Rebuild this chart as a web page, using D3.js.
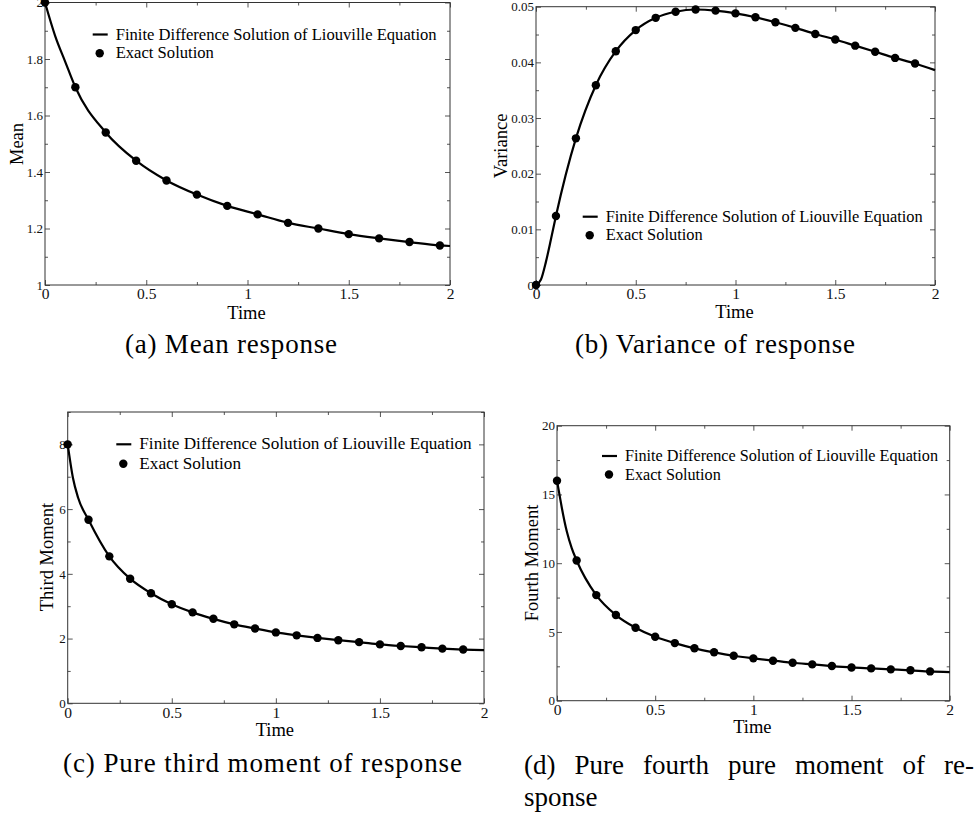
<!DOCTYPE html>
<html>
<head>
<meta charset="utf-8">
<script src="https://d3js.org/d3.v7.min.js"></script>
<style>
body { margin: 0; background: #fff; }
svg { display: block; }
text { font-family: "Liberation Serif", "Times New Roman", Times, serif; }
.frame { fill: none; stroke: #333; stroke-width: 1; }
.tick line { stroke: #555; }
.tick text { fill: #111; }
</style>
</head>
<body>
<div id="plot"></div>
<script>

// ---- data ----
// (a) mean response
var tDotsA = [0, 0.15, 0.3, 0.45, 0.6, 0.75, 0.9, 1.05, 1.2, 1.35, 1.5, 1.65, 1.8, 1.95];
var meanDots = [2.0, 1.70, 1.54, 1.44, 1.37, 1.32, 1.28, 1.25, 1.22, 1.20, 1.18, 1.165, 1.152, 1.14];
var tLineA = [0, 0.05, 0.1, 0.15, 0.3, 0.45, 0.6, 0.75, 0.9, 1.05, 1.2, 1.35, 1.5, 1.65, 1.8, 1.95, 2.0];
var meanLine = [2.0, 1.882, 1.79, 1.70, 1.54, 1.44, 1.37, 1.32, 1.28, 1.25, 1.22, 1.20, 1.18, 1.165, 1.152, 1.14, 1.138];

// dots of (b), (c), (d) share one time grid
var tDots = [0, 0.1, 0.2, 0.3, 0.4, 0.5, 0.6, 0.7, 0.8, 0.9, 1.0, 1.1, 1.2, 1.3, 1.4, 1.5, 1.6, 1.7, 1.8, 1.9];

// (b) variance
var varDots = [0, 0.0124, 0.02635, 0.0359, 0.0420, 0.0458, 0.0480, 0.0491, 0.0495, 0.0493,
  0.0488, 0.0481, 0.0472, 0.0462, 0.0451, 0.0441, 0.0430, 0.0419, 0.0408, 0.0398];
var tLineB = [0, 0.025, 0.05, 0.075, 0.1, 0.2, 0.3, 0.4, 0.5, 0.6, 0.7, 0.8, 0.9, 1.0,
  1.1, 1.2, 1.3, 1.4, 1.5, 1.6, 1.7, 1.8, 1.9, 2.0];
var varLine = [0, 0.001, 0.0042, 0.0082, 0.0124, 0.02635, 0.0359, 0.0420, 0.0458, 0.0480, 0.0491, 0.0495, 0.0493,
  0.0488, 0.0481, 0.0472, 0.0462, 0.0451, 0.0441, 0.0430, 0.0419, 0.0408, 0.0398, 0.0386];

// (c) third moment
var thirdDots = [8.0, 5.67, 4.54, 3.85, 3.40, 3.06, 2.81, 2.61, 2.44, 2.31,
  2.19, 2.10, 2.02, 1.95, 1.89, 1.82, 1.77, 1.73, 1.69, 1.66];
var tLineC = [0, 0.025, 0.05, 0.1, 0.2, 0.3, 0.4, 0.5, 0.6, 0.7, 0.8, 0.9, 1.0,
  1.1, 1.2, 1.3, 1.4, 1.5, 1.6, 1.7, 1.8, 1.9, 2.0];
var thirdLine = [8.0, 6.97, 6.35, 5.67, 4.54, 3.85, 3.40, 3.06, 2.81, 2.61, 2.44, 2.31,
  2.19, 2.10, 2.02, 1.95, 1.89, 1.82, 1.77, 1.73, 1.69, 1.66, 1.64];

// (d) fourth moment
var fourthDots = [16.0, 10.2, 7.68, 6.23, 5.31, 4.65, 4.19, 3.81, 3.52, 3.27,
  3.08, 2.91, 2.76, 2.64, 2.52, 2.42, 2.35, 2.28, 2.21, 2.13];
var tLineD = [0, 0.0125, 0.025, 0.05, 0.075, 0.1, 0.2, 0.3, 0.4, 0.5, 0.6, 0.7, 0.8, 0.9, 1.0,
  1.1, 1.2, 1.3, 1.4, 1.5, 1.6, 1.7, 1.8, 1.9, 2.0];
var fourthLine = [16.0, 15.0, 14.0, 12.3, 11.1, 10.2, 7.68, 6.23, 5.31, 4.65, 4.19, 3.81, 3.52, 3.27,
  3.08, 2.91, 2.76, 2.64, 2.52, 2.42, 2.35, 2.28, 2.21, 2.13, 2.08];

// ticks
var xMajor = [0, 0.5, 1, 1.5, 2];
var xMinor = [0.25, 0.75, 1.25, 1.75];
var yMajorA = [1, 1.2, 1.4, 1.6, 1.8, 2], yMinorA = [1.1, 1.3, 1.5, 1.7, 1.9];
var yMajorB = [0, 0.01, 0.02, 0.03, 0.04, 0.05], yMinorB = [0.005, 0.015, 0.025, 0.035, 0.045];
var yMajorC = [0, 2, 4, 6, 8], yMinorC = [1, 3, 5, 7, 9];
var yMajorD = [0, 5, 10, 15, 20], yMinorD = [2.5, 7.5, 12.5, 17.5];

var lineLabel = "Finite Difference Solution of Liouville Equation";
var dotLabel = "Exact Solution";

var width = 980, height = 818;
var serif = "'Liberation Serif', 'Times New Roman', Times, serif";

var svg = d3.select("#plot").append("svg")
  .attr("width", width).attr("height", height)
  .attr("font-family", serif);
svg.append("rect").attr("width", width).attr("height", height).attr("fill", "#fff");

var fmt = d3.format("~g");

function drawPanel(p) {
  var x = d3.scaleLinear().domain([0, 2]).range([p.left, p.right]);
  var y = d3.scaleLinear().domain(p.yDomain).range([p.bottom, p.top]);
  var g = svg.append("g");

  // ticks point inward on all four sides
  function addAxis(axis, transform) {
    var a = g.append("g").attr("transform", transform).call(axis)
      .attr("font-family", serif);
    a.select(".domain").remove();
    return a;
  }
  addAxis(d3.axisBottom(x).tickValues(xMajor).tickSize(-5).tickPadding(3).tickFormat(fmt),
    "translate(0," + p.bottom + ")")
    .selectAll("text").attr("font-size", 15.5).attr("dy", "0.74em");
  addAxis(d3.axisBottom(x).tickValues(xMinor).tickSize(-3).tickFormat(""), "translate(0," + p.bottom + ")");
  addAxis(d3.axisTop(x).tickValues(xMajor).tickSize(-5).tickFormat(""), "translate(0," + p.top + ")");
  addAxis(d3.axisTop(x).tickValues(xMinor).tickSize(-3).tickFormat(""), "translate(0," + p.top + ")");
  addAxis(d3.axisLeft(y).tickValues(p.yMajor).tickSize(-5).tickPadding(2).tickFormat(fmt),
    "translate(" + p.left + ",0)")
    .selectAll("text").attr("font-size", 13);
  addAxis(d3.axisLeft(y).tickValues(p.yMinor).tickSize(-3).tickFormat(""), "translate(" + p.left + ",0)");
  addAxis(d3.axisRight(y).tickValues(p.yMajor).tickSize(-5).tickFormat(""), "translate(" + p.right + ",0)");
  addAxis(d3.axisRight(y).tickValues(p.yMinor).tickSize(-3).tickFormat(""), "translate(" + p.right + ",0)");

  g.append("rect").attr("class", "frame")
    .attr("x", p.left).attr("y", p.top)
    .attr("width", p.right - p.left).attr("height", p.bottom - p.top);

  // curve + dots
  var line = d3.line()
    .x(function(d) { return x(d[0]); })
    .y(function(d) { return y(d[1]); })
    .curve(d3.curveMonotoneX);
  g.append("path")
    .datum(d3.zip(p.tLine, p.line))
    .attr("d", line)
    .attr("fill", "none").attr("stroke", "#000").attr("stroke-width", 2.2);
  g.selectAll("circle.dot")
    .data(d3.zip(p.tDots, p.dots)).enter().append("circle")
    .attr("class", "dot")
    .attr("cx", function(d) { return x(d[0]); })
    .attr("cy", function(d) { return y(d[1]); })
    .attr("r", 4.2).attr("fill", "#000");

  // axis titles
  g.append("text").attr("x", (p.left + p.right) / 2 - 1).attr("y", p.xTitleY)
    .attr("text-anchor", "middle").attr("font-size", 18.5).text("Time");
  g.append("text")
    .attr("transform", "translate(" + p.yTitleX + "," + p.yTitleY + ") rotate(-90)")
    .attr("text-anchor", "middle").attr("font-size", 18.5).text(p.yTitle);

  // legend
  var L = p.legend;
  g.append("line").attr("x1", L.x - 23).attr("x2", L.x - 8)
    .attr("y1", L.y - 5).attr("y2", L.y - 5)
    .attr("stroke", "#000").attr("stroke-width", 2.2);
  g.append("text").attr("x", L.x).attr("y", L.y).attr("font-size", L.size).text(lineLabel);
  g.append("circle").attr("cx", L.x - 16).attr("cy", L.y + L.gap - 5).attr("r", 4.2).attr("fill", "#000");
  g.append("text").attr("x", L.x).attr("y", L.y + L.gap).attr("font-size", L.size).text(dotLabel);
}

drawPanel({ left: 45, right: 450, top: 2.5, bottom: 285, yDomain: [1, 2],
  yMajor: yMajorA, yMinor: yMinorA, tDots: tDotsA, dots: meanDots, tLine: tLineA, line: meanLine,
  yTitle: "Mean", yTitleX: 23, yTitleY: 144, xTitleY: 319,
  legend: { x: 115.7, y: 39.5, gap: 18.8, size: 16.6 } });

drawPanel({ left: 536, right: 935, top: 6.7, bottom: 285, yDomain: [0, 0.05],
  yMajor: yMajorB, yMinor: yMinorB, tDots: tDots, dots: varDots, tLine: tLineB, line: varLine,
  yTitle: "Variance", yTitleX: 507, yTitleY: 146, xTitleY: 317.5,
  legend: { x: 605.7, y: 221.7, gap: 18.5, size: 16.4 } });

drawPanel({ left: 67.7, right: 484, top: 412, bottom: 703.3, yDomain: [0, 9],
  yMajor: yMajorC, yMinor: yMinorC, tDots: tDots, dots: thirdDots, tLine: tLineC, line: thirdLine,
  yTitle: "Third Moment", yTitleX: 53, yTitleY: 557, xTitleY: 736,
  legend: { x: 139.3, y: 449.3, gap: 19.5, size: 17.2 } });

drawPanel({ left: 557, right: 949.7, top: 425.7, bottom: 700.7, yDomain: [0, 20],
  yMajor: yMajorD, yMinor: yMinorD, tDots: tDots, dots: fourthDots, tLine: tLineD, line: fourthLine,
  yTitle: "Fourth Moment", yTitleX: 538, yTitleY: 563, xTitleY: 732.5,
  legend: { x: 625, y: 461, gap: 18.5, size: 16.2 } });

// sub-figure captions
function caption(txt, x, y, w) {
  return svg.append("text").attr("x", x).attr("y", y)
    .attr("font-size", 27).attr("textLength", w).attr("lengthAdjust", "spacing")
    .text(txt);
}
caption("(a) Mean response", 125, 353, 212);
caption("(b) Variance of response", 575, 353, 280);
caption("(c) Pure third moment of response", 63, 772, 399);

// (d) is justified over two lines
var dLine = svg.append("text").attr("x", 524).attr("y", 774)
  .attr("font-size", 27).text("(d) Pure fourth pure moment of re-");
var natural = dLine.node().getComputedTextLength();
var gaps = 6;
dLine.style("word-spacing", ((450 - natural) / gaps) + "px");
svg.append("text").attr("x", 524).attr("y", 806).attr("font-size", 27).text("sponse");

</script>
</body>
</html>
